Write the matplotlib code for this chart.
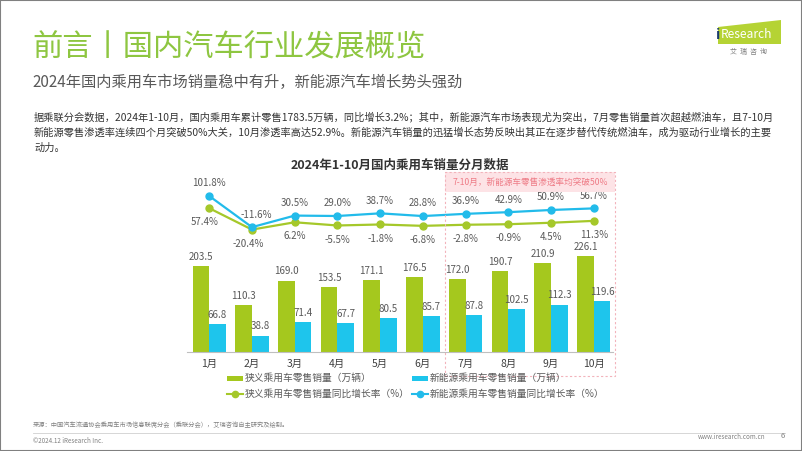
import matplotlib
matplotlib.use("Agg")
import matplotlib.pyplot as plt
from matplotlib.patches import Rectangle, Polygon
from matplotlib.lines import Line2D

plt.rcParams['font.family'] = ['Noto Sans CJK SC', 'DejaVu Sans']

# ---------------- data ----------------
months = ["1月", "2月", "3月", "4月", "5月", "6月", "7月", "8月", "9月", "10月"]
total_sales = [203.5, 110.3, 169.0, 153.5, 171.1, 176.5, 172.0, 190.7, 210.9, 226.1]
nev_sales = [66.8, 38.8, 71.4, 67.7, 80.5, 85.7, 87.8, 102.5, 112.3, 119.6]
total_yoy = [57.4, -20.4, 6.2, -5.5, -1.8, -6.8, -2.8, -0.9, 4.5, 11.3]
nev_yoy = [101.8, -11.6, 30.5, 29.0, 38.7, 28.8, 36.9, 42.9, 50.9, 56.7]

legend_labels = ["狭义乘用车零售销量（万辆）", "新能源乘用车零售销量（万辆）",
                 "狭义乘用车零售销量同比增长率（%）", "新能源乘用车零售销量同比增长率（%）"]

GREEN = "#a5c81e"
BLUE = "#1ec5ec"
LGREEN = "#a5c82a"
LBLUE = "#22bbea"
TITLE_GREEN = "#8ec641"
GRAY = "#595959"

W, H = 802, 451
fig = plt.figure(figsize=(W / 100, H / 100), dpi=100)


def fx(x):
    return x / W


def fy(y):
    return 1 - y / H


def ftext(x, y, s, **kw):
    fig.text(fx(x), fy(y), s, **kw)


# ---------------- header ----------------
ftext(32, 48, "前言丨国内汽车行业发展概览", fontsize=21.8, color=TITLE_GREEN, va='center', ha='left',
      fontweight='light')
ftext(32, 82, "2024年国内乘用车市场销量稳中有升，新能源汽车增长势头强劲", fontsize=11,
      color=GRAY, va='center', ha='left')

para = [
    "据乘联分会数据，2024年1-10月，国内乘用车累计零售1783.5万辆，同比增长3.2%；其中，新能源汽车市场表现尤为突出，7月零售销量首次超越燃油车，且7-10月",
    "新能源零售渗透率连续四个月突破50%大关，10月渗透率高达52.9%。新能源汽车销量的迅猛增长态势反映出其正在逐步替代传统燃油车，成为驱动行业增长的主要",
    "动力。",
]
for i, line in enumerate(para):
    ftext(34, 117 + i * 15.5, line, fontsize=7.35, color="#333333", va='center', ha='left')

# logo
logo = Polygon([[fx(718), fy(44)], [fx(781), fy(44)], [fx(781), fy(20)], [fx(718), fy(27)]],
               closed=True, transform=fig.transFigure, facecolor="#b5d334", edgecolor='none')
fig.patches.append(logo)
ftext(716, 35, "i", fontsize=10, color="#1a3a6b", va='center', ha='left', fontweight='bold')
ftext(721, 35, "Research", fontsize=8.6, color="white", va='center', ha='left')
ftext(749, 52, "艾  瑞  咨  询", fontsize=5, color="#7f7f7f", va='center', ha='center')

# ---------------- chart ----------------
ax_l, ax_r, ax_b, ax_t = 187, 613, 352, 150
ax = fig.add_axes([fx(ax_l), fy(ax_b), (ax_r - ax_l) / W, (ax_b - ax_t) / H])
x = list(range(len(months)))
bw = 0.39
gx = [i - bw / 2 for i in x]
bx = [i + bw / 2 for i in x]
ax.bar(gx, total_sales, width=bw, color=GREEN, zorder=2)
ax.bar(bx, nev_sales, width=bw, color=BLUE, zorder=2)
ax.set_xlim(-0.52, 9.45)
ax.set_ylim(0, 478)
ax.set_xticks(x)
ax.set_xticklabels(months, fontsize=7.5, color="#404040")
ax.tick_params(axis='x', length=0, pad=5)
ax.set_yticks([])
for s in ['top', 'right', 'left']:
    ax.spines[s].set_visible(False)
ax.spines['bottom'].set_color("#bfbfbf")
ax.spines['bottom'].set_linewidth(0.8)
ax.patch.set_alpha(0)

for xi, v in zip(gx, total_sales):
    ax.annotate(f"{v:.1f}", (xi, v), xytext=(0, 3), textcoords='offset points',
                ha='center', va='bottom', fontsize=7, color=GRAY)
for xi, v in zip(bx, nev_sales):
    ax.annotate(f"{v:.1f}", (xi, v), xytext=(0, 3), textcoords='offset points',
                ha='center', va='bottom', fontsize=7, color=GRAY)

ax2 = ax.twinx()
ax2.set_ylim(-465.5, 269)
ax2.axis('off')
ax2.plot(x, total_yoy, color=LGREEN, lw=1.6, marker='o', ms=5, zorder=3)
ax2.plot(x, nev_yoy, color=LBLUE, lw=1.6, marker='o', ms=5, zorder=3)
for xi, v in zip(x, nev_yoy):
    dx = 3 if xi == 1 else 0
    ax2.annotate(f"{v:.1f}%", (xi, v), xytext=(dx, 5.5), textcoords='offset points',
                 ha='center', va='bottom', fontsize=7, color=GRAY)
for xi, v in zip(x, total_yoy):
    dx = -3 if xi in (0, 1) else 0
    ax2.annotate(f"{v:.1f}%", (xi, v), xytext=(dx, -6.5), textcoords='offset points',
                 ha='center', va='top', fontsize=7, color=GRAY)

ftext(400, 165, "2024年1-10月国内乘用车销量分月数据", fontsize=9, fontweight='bold',
      color="#333333", va='center', ha='center')

# highlight box
bx0, bx1, by0, by1 = 445, 615, 172, 376
fig.patches.append(Rectangle((fx(bx0), fy(192)), (bx1 - bx0) / W, 20 / H, transform=fig.transFigure,
                             facecolor="#fde3e6", edgecolor='none', zorder=0))
fig.patches.append(Rectangle((fx(bx0), fy(by1)), (bx1 - bx0) / W, (by1 - by0) / H, transform=fig.transFigure,
                             facecolor='none', edgecolor="#f2b3bb", lw=0.8, linestyle=(0, (2, 2)), zorder=1))
ftext(530, 182, "7-10月，新能源车零售渗透率均突破50%", fontsize=6.2, color="#ee7b86", va='center', ha='center')

# legend
lx1, lx2 = 227, 412
rows = [378, 394]
fig.patches.append(Rectangle((fx(lx1), fy(rows[0] + 2.5)), 16 / W, 5 / H, transform=fig.transFigure,
                             facecolor=GREEN, edgecolor='none'))
fig.patches.append(Rectangle((fx(lx2), fy(rows[0] + 2.5)), 16 / W, 5 / H, transform=fig.transFigure,
                             facecolor=BLUE, edgecolor='none'))
for lx, col in ((lx1, LGREEN), (lx2, LBLUE)):
    fig.lines.append(Line2D([fx(lx), fx(lx + 16)], [fy(rows[1]), fy(rows[1])], transform=fig.transFigure,
                            color=col, lw=1.5))
    fig.lines.append(Line2D([fx(lx + 8)], [fy(rows[1])], transform=fig.transFigure, color=col,
                            marker='o', ms=4.5, lw=0))
ftext(lx1 + 18, rows[0], legend_labels[0], fontsize=7, color=GRAY, va='center', ha='left')
ftext(lx2 + 18, rows[0], legend_labels[1], fontsize=7, color=GRAY, va='center', ha='left')
ftext(lx1 + 18, rows[1], legend_labels[2], fontsize=7, color=GRAY, va='center', ha='left')
ftext(lx2 + 18, rows[1], legend_labels[3], fontsize=7, color=GRAY, va='center', ha='left')

# footer
ftext(33, 425, "来源：中国汽车流通协会乘用车市场信息联席分会（乘联分会），艾瑞咨询自主研究及绘制。",
      fontsize=4.5, color="#808080", va='center', ha='left')
fig.lines.append(Line2D([fx(33), fx(785)], [fy(433), fy(433)], transform=fig.transFigure,
                        color="#d0d0d0", lw=0.6))
ftext(33, 441, "©2024.12 iResearch Inc.", fontsize=4.5, color="#808080", va='center', ha='left')
ftext(765, 437, "www.iresearch.com.cn", fontsize=4.5, color="#808080", va='center', ha='right')
ftext(783, 436, "6", fontsize=5.5, color="#808080", va='center', ha='center')

# border
fig.patches.append(Rectangle((0, 0), 1, 1, transform=fig.transFigure, facecolor='none',
                             edgecolor="#808080", lw=1.5))

fig.savefig("out.png", dpi=100)
